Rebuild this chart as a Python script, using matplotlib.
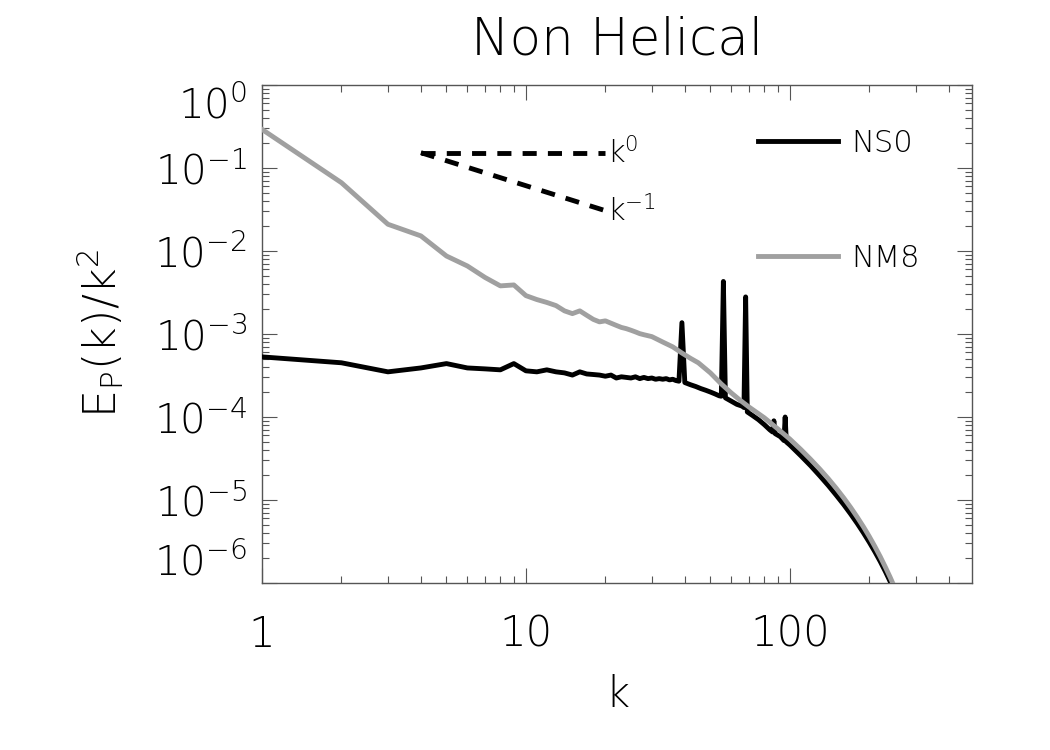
import matplotlib
matplotlib.use("Agg")
import matplotlib.pyplot as plt
from matplotlib.ticker import LogLocator, NullFormatter

# ---------------- data ----------------
k_ns0 = [1, 2, 3, 4, 5, 6, 7, 8, 9, 10, 11, 12, 13, 14, 15, 16, 17, 18, 19, 20,
         21, 22, 23, 24, 25, 26, 27, 28, 29, 30, 31, 32, 33, 34, 35, 36, 37, 38,
         39, 40, 42, 44, 46, 48, 50, 52, 54, 55, 56, 57, 60, 63, 66, 67, 68, 69,
         72, 76, 80, 84, 86, 87, 88, 92, 95, 96, 97, 100, 110, 120, 130, 140,
         150, 160, 170, 180, 190, 200, 210, 220, 230, 240, 250, 260, 270]
e_ns0 = [5.3e-4, 4.5e-4, 3.5e-4, 3.9e-4, 4.4e-4, 3.9e-4, 3.8e-4, 3.7e-4, 4.4e-4, 3.6e-4,
         3.5e-4, 3.7e-4, 3.5e-4, 3.4e-4, 3.2e-4, 3.5e-4, 3.3e-4, 3.25e-4, 3.2e-4, 3.1e-4,
         3.2e-4, 2.95e-4, 3.05e-4, 3.0e-4, 2.95e-4, 3.05e-4, 2.9e-4, 3.0e-4, 2.9e-4, 2.95e-4,
         2.85e-4, 2.9e-4, 2.85e-4, 2.9e-4, 2.8e-4, 2.85e-4, 2.75e-4, 2.7e-4,
         1.37e-3, 2.6e-4, 2.45e-4, 2.33e-4, 2.2e-4, 2.1e-4, 2.0e-4, 1.9e-4, 1.8e-4, 1.78e-4,
         4.3e-3, 1.7e-4, 1.55e-4, 1.42e-4, 1.35e-4, 1.3e-4, 2.8e-3, 1.15e-4,
         1.05e-4, 9.3e-5, 8.1e-5, 7.0e-5, 6.6e-5, 9.0e-5, 6.3e-5, 5.8e-5, 5.2e-5, 1.0e-4,
         5.0e-5, 4.6e-5, 3.42e-5, 2.58e-5, 1.95e-5, 1.49e-5,
         1.14e-5, 8.8e-6, 6.78e-6, 5.23e-6, 4.03e-6, 3.10e-6, 2.38e-6, 1.82e-6, 1.38e-6, 1.04e-6,
         7.8e-7, 5.8e-7, 4.35e-7]

k_nm8 = [1, 2, 3, 4, 5, 6, 7, 8, 9, 10, 11, 12, 13, 14, 15, 16, 17, 18, 19, 20,
         21, 22, 23, 24, 25, 26, 27, 28, 30, 33, 36, 39, 42, 45, 50, 55, 60, 65, 70,
         80, 90, 100, 110, 120, 130, 140, 150, 160, 170, 180, 190, 200, 210, 220,
         230, 240, 250, 260, 270]
e_nm8 = [0.292, 0.0665, 0.021, 0.0152, 0.0087, 0.0066, 0.0048, 0.0038, 0.0039, 0.0029,
         0.0026, 0.0024, 0.0022, 0.0019, 0.00176, 0.0019, 0.00168, 0.0015, 0.0014, 0.00144,
         0.00135, 0.00127, 0.0012, 0.00116, 0.00111, 0.00106, 0.00101, 0.00098,
         9.3e-4, 8.0e-4, 7.0e-4, 5.9e-4, 5.1e-4, 4.5e-4, 3.4e-4, 2.5e-4, 1.95e-4, 1.58e-4, 1.32e-4,
         9.8e-5, 7.2e-5, 5.42e-5, 4.07e-5, 3.08e-5, 2.35e-5, 1.80e-5, 1.38e-5, 1.06e-5, 8.13e-6,
         6.22e-6, 4.76e-6, 3.63e-6, 2.75e-6, 2.08e-6, 1.56e-6, 1.17e-6, 8.7e-7, 6.4e-7, 4.7e-7]

# reference slopes k^0 and k^-1
k_ref = [4, 20]
ref_amp = 0.153

series_labels = ["NS0", "NM8"]
xtick_values = [1, 10, 100]
xtick_labels = ["1", "10", "100"]
ytick_values = [1e-6, 1e-5, 1e-4, 1e-3, 1e-2, 1e-1, 1e0]
ytick_labels = [r"$\mathdefault{10^{-6}}$", r"$\mathdefault{10^{-5}}$", r"$\mathdefault{10^{-4}}$",
                r"$\mathdefault{10^{-3}}$", r"$\mathdefault{10^{-2}}$", r"$\mathdefault{10^{-1}}$",
                r"$\mathdefault{10^{0}}$"]

# ---------------- style ----------------
plt.rcParams['font.family'] = ['DejaVu Sans']
plt.rcParams['font.weight'] = 'light'
plt.rcParams['axes.titleweight'] = 'light'
plt.rcParams['axes.labelweight'] = 'light'
plt.rcParams['mathtext.default'] = 'regular'

fig = plt.figure(figsize=(10.5, 7.5), dpi=100)
ax = fig.add_axes([262/1050, 1 - 583/750, 710/1050, 498/750])

ax.plot(k_ns0, e_ns0, color='black', lw=3.5, label=series_labels[0], zorder=3)
ax.plot(k_nm8, e_nm8, color='#a0a0a0', lw=3.5, label=series_labels[1], zorder=4)

ref0 = [ref_amp for _ in k_ref]
ref1 = [ref_amp * k_ref[0] / kk for kk in k_ref]
ax.plot(k_ref, ref0, color='black', lw=3.5, dashes=(2.9, 2.3), zorder=5)
ax.plot(k_ref, ref1, color='black', lw=3.5, dashes=(2.9, 2.3), zorder=5)
ax.text(20.3, ref0[-1], r"k$^{0}$", fontsize=22, va='center', ha='left')
ax.text(20.3, ref1[-1], r"k$^{-1}$", fontsize=22, va='center', ha='left')

ax.set_xscale('log')
ax.set_yscale('log')
ax.set_xlim(1, 490)
ax.set_ylim(1e-6, 1)

ax.set_xticks(xtick_values)
ax.set_xticklabels(xtick_labels)
ax.xaxis.set_minor_locator(LogLocator(base=10, subs=range(2, 10)))
ax.xaxis.set_minor_formatter(NullFormatter())
ax.set_yticks(ytick_values)
ax.set_yticklabels(ytick_labels)
ax.yaxis.set_minor_locator(LogLocator(base=10, subs=range(2, 10), numticks=20))
ax.yaxis.set_minor_formatter(NullFormatter())

for sp in ax.spines.values():
    sp.set_color('#555555')
    sp.set_linewidth(1.0)

ax.tick_params(which='both', direction='in', top=True, right=True, color='#555555', width=0.8)
ax.tick_params(which='major', length=11)
ax.tick_params(which='minor', length=5)
ax.tick_params(axis='x', which='major', labelsize=30, pad=22)
ax.tick_params(axis='y', which='major', labelsize=29, pad=11)

ylabs = ax.get_yticklabels()
ylabs[0].set_va('bottom')
ylabs[-1].set_va('top')

ax.set_title("Non Helical", fontsize=37, pad=22)
ax.set_xlabel("k", fontsize=30, labelpad=14)
ax.set_ylabel(r"E$_{P}$(k)/k$^{2}$", fontsize=32, labelpad=20)

leg = ax.legend(loc='upper right', bbox_to_anchor=(0.927, 0.912), frameon=False,
                fontsize=22, handlelength=2.6, handletextpad=0.45, labelspacing=2.81,
                borderpad=0, borderaxespad=0)

fig.savefig("out.png", dpi=100)
